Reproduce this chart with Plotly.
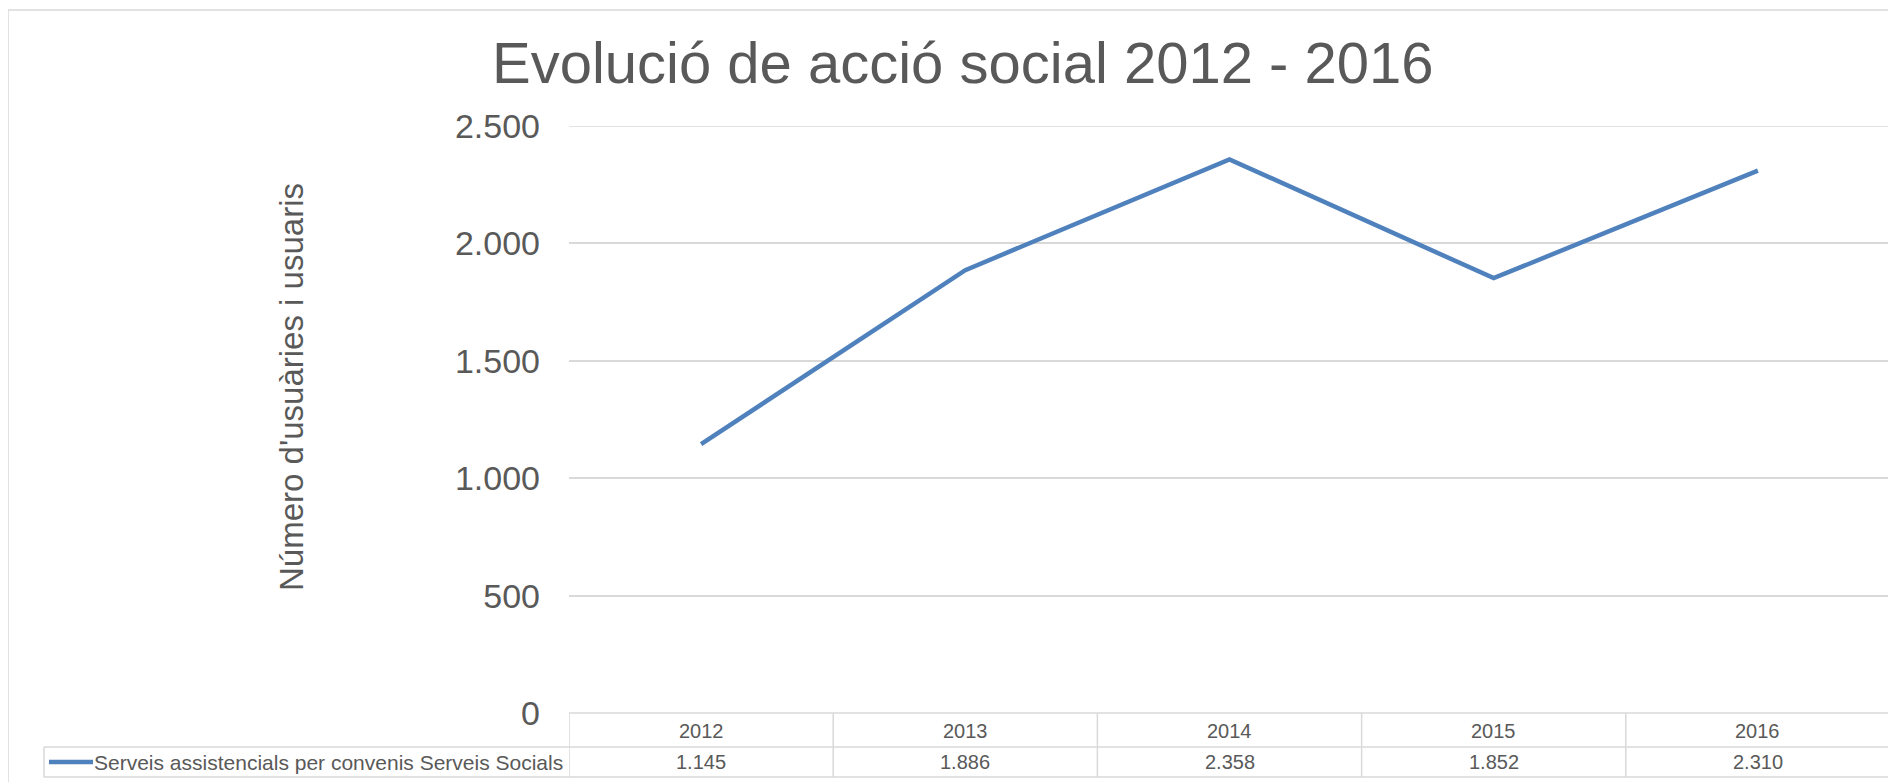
import plotly.graph_objects as go

FONT = "Arial, Liberation Sans, sans-serif"
TEXT_COLOR = "#595959"
GRID_COLOR = "#D9D9D9"
LINE_COLOR = "#4F81BD"

# the page body has an 8px margin, so the figure is drawn 8px smaller and
# every pixel position below is measured on the 1896x782 screenshot
OFF = 8
W, H = 1896 - OFF, 782 - OFF

# data
years = ["2012", "2013", "2014", "2015", "2016"]
usuaris = [1145, 1886, 2358, 1852, 2310]
serie_name = "Serveis assistencials per convenis Serveis Socials"
y_ticks = [0, 500, 1000, 1500, 2000, 2500]


def px_x(x):
    return (x - OFF) / W


def px_y(y):
    return 1 - (y - OFF) / H


def fmt(v):
    return f"{v:,}".replace(",", ".")


fig = go.Figure()
fig.add_trace(go.Scatter(
    x=years, y=usuaris, mode="lines", name=serie_name,
    line=dict(color=LINE_COLOR, width=4.5),
    hoverinfo="skip", showlegend=False,
))

# plot area: x 569..1890, y 126..713 (screen pixels)
fig.update_layout(
    width=W, height=H,
    margin=dict(l=0, r=0, t=0, b=0, autoexpand=False),
    paper_bgcolor="white", plot_bgcolor="white",
    font=dict(family=FONT, color=TEXT_COLOR),
    separators=",.",
    showlegend=False,
    xaxis=dict(
        domain=[px_x(569), px_x(1890)],
        type="category", range=[-0.5, len(years) - 0.5],
        showticklabels=False, showgrid=False, zeroline=False, showline=False,
        ticks="", automargin=False,
    ),
    yaxis=dict(
        domain=[px_y(713), px_y(126)],
        range=[0, 2500], tickvals=y_ticks, tickformat=",.0f",
        showgrid=True, gridcolor=GRID_COLOR, gridwidth=1.5,
        zeroline=False, showline=False, ticks="", automargin=False,
        tickfont=dict(size=34, color=TEXT_COLOR, family=FONT),
        ticklabelstandoff=28,
    ),
)

shapes = []
# outer chart border (top and left visible)
shapes.append(dict(type="line", xref="paper", yref="paper",
                   x0=px_x(8), x1=1.01, y0=px_y(10), y1=px_y(10),
                   line=dict(color=GRID_COLOR, width=1.5)))
shapes.append(dict(type="line", xref="paper", yref="paper",
                   x0=px_x(8), x1=px_x(8), y0=px_y(10), y1=-0.01,
                   line=dict(color=GRID_COLOR, width=1.5)))
# top gridline (2500) at the plot edge
shapes.append(dict(type="line", xref="x domain", yref="y",
                   x0=0, x1=1, y0=y_ticks[-1], y1=y_ticks[-1],
                   line=dict(color=GRID_COLOR, width=1.5)))

# data table
tb_top, tb_mid, tb_bot = 713, 747, 777
tb_left, tb_right, leg_left = 569, 1890, 44
for (x0, x1, y) in [(tb_left, tb_right, tb_top), (leg_left, tb_right, tb_mid),
                    (leg_left, tb_right, tb_bot)]:
    shapes.append(dict(type="line", xref="paper", yref="paper",
                       x0=px_x(x0), x1=px_x(x1), y0=px_y(y), y1=px_y(y),
                       line=dict(color=GRID_COLOR, width=1.5)))
shapes.append(dict(type="line", xref="paper", yref="paper",
                   x0=px_x(leg_left), x1=px_x(leg_left), y0=px_y(tb_mid), y1=px_y(tb_bot),
                   line=dict(color=GRID_COLOR, width=1.5)))
for i in range(len(years) + 1):
    shapes.append(dict(type="line", xref="x", yref="paper",
                       x0=i - 0.5, x1=i - 0.5, y0=px_y(tb_top), y1=px_y(tb_bot),
                       line=dict(color=GRID_COLOR, width=1.5)))
# legend key
shapes.append(dict(type="line", xref="paper", yref="paper",
                   x0=px_x(49), x1=px_x(93), y0=px_y(762), y1=px_y(762),
                   line=dict(color=LINE_COLOR, width=4.5)))
fig.update_layout(shapes=shapes)

annotations = []
for i, (yr, v) in enumerate(zip(years, usuaris)):
    annotations.append(dict(x=i, xref="x", y=px_y(731), yref="paper",
                            text=yr, showarrow=False, xanchor="center", yanchor="middle",
                            font=dict(size=20, color=TEXT_COLOR, family=FONT)))
    annotations.append(dict(x=i, xref="x", y=px_y(762), yref="paper",
                            text=fmt(v), showarrow=False, xanchor="center", yanchor="middle",
                            font=dict(size=20, color=TEXT_COLOR, family=FONT)))
annotations.append(dict(x=px_x(92), xref="paper", y=px_y(762), yref="paper",
                        text=serie_name, showarrow=False, xanchor="left", yanchor="middle",
                        font=dict(size=21, color=TEXT_COLOR, family=FONT)))
# axis title
annotations.append(dict(x=px_x(291), xref="paper", y=px_y(387), yref="paper",
                        text="Número d'usuàries i usuaris", textangle=-90, showarrow=False,
                        xanchor="center", yanchor="middle",
                        font=dict(size=33, color=TEXT_COLOR, family=FONT)))
# chart title
annotations.append(dict(x=px_x(962), xref="paper", y=px_y(62), yref="paper",
                        text="Evolució de acció social 2012 - 2016", showarrow=False,
                        xanchor="center", yanchor="middle",
                        font=dict(size=58, color=TEXT_COLOR, family=FONT)))
fig.update_layout(annotations=annotations)

fig.write_html("out.html")
